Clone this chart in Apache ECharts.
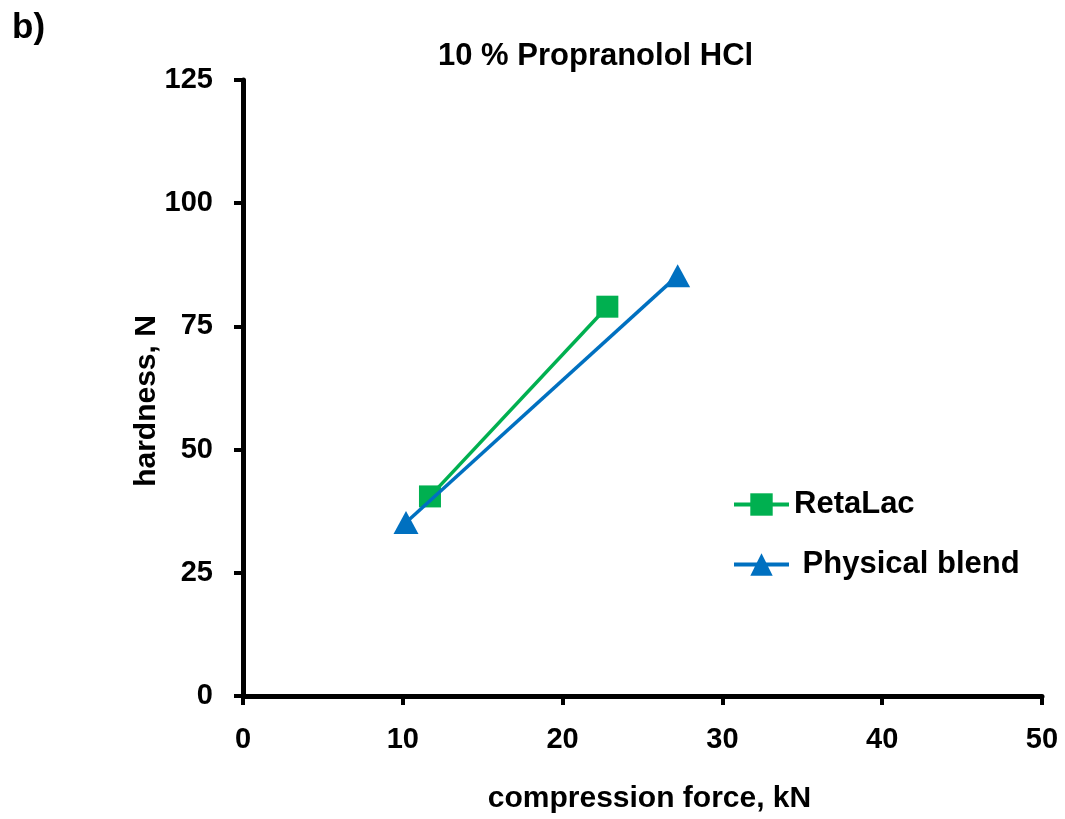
<!DOCTYPE html>
<html>
<head>
<meta charset="utf-8">
<script src="https://cdn.jsdelivr.net/npm/echarts@6/dist/echarts.min.js"></script>
<style>html,body{margin:0;padding:0;background:#fff}#c{width:1065px;height:819px}</style>
</head>
<body>
<div id="c"></div>
<script>
const retaLacX = [11.7, 22.8];
const retaLacY = [40.5, 79.0];
const blendX = [10.2, 27.2];
const blendY = [35.2, 85.3];
const xTicks = [0, 10, 20, 30, 40, 50];
const yTicks = [0, 25, 50, 75, 100, 125];

const F = '"Liberation Sans", Arial, sans-serif';
const chart = echarts.init(document.getElementById('c'), null, {renderer: 'canvas'});
chart.setOption({
  animation: false,
  backgroundColor: '#fff',
  title: {
    text: '10 % Propranolol HCl',
    left: 438, top: 41, padding: 0,
    textStyle: {fontFamily: F, fontWeight: 'bold', fontSize: 31, color: '#000'}
  },
  graphic: [{
    type: 'text', left: 12, top: 11,
    style: {text: 'b)', font: 'bold 35px ' + F, fill: '#000'}
  }],
  legend: {
    orient: 'vertical', left: 732, top: 489, padding: 0,
    itemWidth: 55, itemHeight: 28, itemGap: 29,
    lineStyle: {width: 4},
    textStyle: {fontFamily: F, fontWeight: 'bold', fontSize: 31, color: '#000'},
    data: ['RetaLac', ' Physical blend']
  },
  grid: {left: 243, right: 23, top: 80, bottom: 121, containLabel: false},
  xAxis: {
    type: 'value', min: xTicks[0], max: xTicks[xTicks.length-1], interval: 10,
    name: 'compression force, kN', nameLocation: 'middle', nameGap: 88, nameMoveOverlap: false,
    nameTextStyle: {fontFamily: F, fontWeight: 'bold', fontSize: 30, color: '#000', padding: [0,0,0,14]},
    axisLine: {onZero: false, lineStyle: {color: '#000', width: 5}},
    axisTick: {inside: false, length: 9, lineStyle: {color: '#000', width: 4}},
    axisLabel: {fontFamily: F, fontWeight: 'bold', fontSize: 29, color: '#000', margin: 29},
    splitLine: {show: false}
  },
  yAxis: {
    type: 'value', min: yTicks[0], max: yTicks[yTicks.length-1], interval: 25,
    name: 'hardness, N', nameLocation: 'middle', nameGap: 81, nameMoveOverlap: false,
    nameTextStyle: {fontFamily: F, fontWeight: 'bold', fontSize: 30, color: '#000', padding: [0,26,0,0]},
    axisLine: {onZero: false, lineStyle: {color: '#000', width: 5}},
    axisTick: {inside: false, length: 9, lineStyle: {color: '#000', width: 4}},
    axisLabel: {fontFamily: F, fontWeight: 'bold', fontSize: 29, color: '#000', margin: 30},
    splitLine: {show: false}
  },
  series: [
    {
      name: 'RetaLac', type: 'line',
      data: retaLacX.map((x, i) => [x, retaLacY[i]]),
      symbol: 'rect', symbolSize: 22,
      lineStyle: {color: '#00B050', width: 3.5},
      itemStyle: {color: '#00B050'},
      z: 2
    },
    {
      name: ' Physical blend', type: 'line',
      data: blendX.map((x, i) => [x, blendY[i]]),
      symbol: 'triangle', symbolSize: [25, 23],
      lineStyle: {color: '#0070C0', width: 3.5},
      itemStyle: {color: '#0070C0'},
      z: 3
    }
  ]
});
</script>
</body>
</html>
